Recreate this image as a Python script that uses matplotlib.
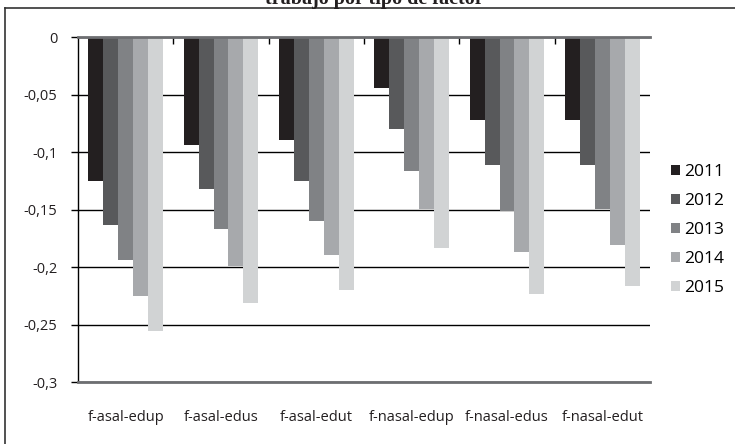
import numpy as np
import matplotlib
matplotlib.use("Agg")
import matplotlib.pyplot as plt
from matplotlib.lines import Line2D
from matplotlib.ticker import FixedLocator, FuncFormatter

categories = ["f-asal-edup", "f-asal-edus", "f-asal-edut",
              "f-nasal-edup", "f-nasal-edus", "f-nasal-edut"]
years = ["2011", "2012", "2013", "2014", "2015"]

v2011 = [-0.125, -0.094, -0.089, -0.044, -0.072, -0.072]
v2012 = [-0.163, -0.132, -0.125, -0.080, -0.111, -0.111]
v2013 = [-0.194, -0.167, -0.160, -0.116, -0.151, -0.149]
v2014 = [-0.225, -0.199, -0.189, -0.149, -0.187, -0.181]
v2015 = [-0.255, -0.231, -0.220, -0.183, -0.223, -0.216]
series = [v2011, v2012, v2013, v2014, v2015]

colors = ["#231f20", "#58595b", "#808285", "#a7a9ac", "#d1d3d4"]

plt.rcParams['font.family'] = ['Open Sans', 'DejaVu Sans']

fig = plt.figure(figsize=(7.35, 4.44), dpi=100)
ax = fig.add_axes([78 / 735, 1 - 382.3 / 444, 572 / 735, 345 / 444])

x = np.arange(len(categories))
bw = 0.157
for i, (vals, col) in enumerate(zip(series, colors)):
    ax.bar(x + (i - 2) * bw, vals, width=bw, color=col, label=years[i],
           zorder=3, linewidth=0)

ax.set_xlim(-0.5, len(categories) - 0.5)
ax.set_ylim(-0.3, 0)

yt = [0, -0.05, -0.1, -0.15, -0.2, -0.25, -0.3]
ax.set_yticks(yt)
ax.yaxis.set_major_formatter(FuncFormatter(
    lambda v, p: "0" if abs(v) < 1e-9 else ("%g" % v).replace(".", ",")))
ax.tick_params(axis='y', direction='out', length=5, width=1, color='black',
               labelsize=10.5, pad=10, labelcolor='#231f20')
ax.yaxis.grid(True, color='black', linewidth=1.0, zorder=0)

ax.set_xticks(x)
ax.set_xticklabels(categories)
ax.tick_params(axis='x', which='major', length=0, labelsize=10.5, pad=20,
               labelcolor='#231f20')
ax.xaxis.set_minor_locator(FixedLocator(np.arange(0.5, len(categories) - 0.5, 1)))
ax.tick_params(axis='x', which='minor', bottom=False, top=True, direction='in',
               length=5, width=1, color='black')

ax.spines['right'].set_visible(False)
ax.spines['left'].set_color('black')
ax.spines['left'].set_linewidth(1)
ax.spines['top'].set_color('#6d6e71')
ax.spines['top'].set_linewidth(2)
ax.spines['top'].set_zorder(4)
ax.spines['bottom'].set_color('#6d6e71')
ax.spines['bottom'].set_linewidth(2)

leg = ax.legend(loc='center left', bbox_to_anchor=(664 / 735, 1 - 230 / 444),
                bbox_transform=fig.transFigure, frameon=False, fontsize=12.5,
                handlelength=0.5, handleheight=0.5, handletextpad=0.25,
                labelspacing=0.75, borderaxespad=0)

# outer frame (left and top edges visible)
fig.add_artist(Line2D([5 / 735, 5 / 735], [0, 1 - 8 / 444], transform=fig.transFigure,
                      color='#333333', linewidth=1.2))
fig.add_artist(Line2D([5 / 735, 1], [1 - 8 / 444, 1 - 8 / 444], transform=fig.transFigure,
                      color='#333333', linewidth=1.2))

# title cut off at the top edge
fig.text(374 / 735, 1 - 4 / 444, "trabajo por tipo de factor", ha='center',
         va='baseline', fontsize=14.5, fontweight='bold',
         family=['Liberation Serif', 'DejaVu Serif'], color='#231f20')

fig.savefig("out.png", dpi=100)
